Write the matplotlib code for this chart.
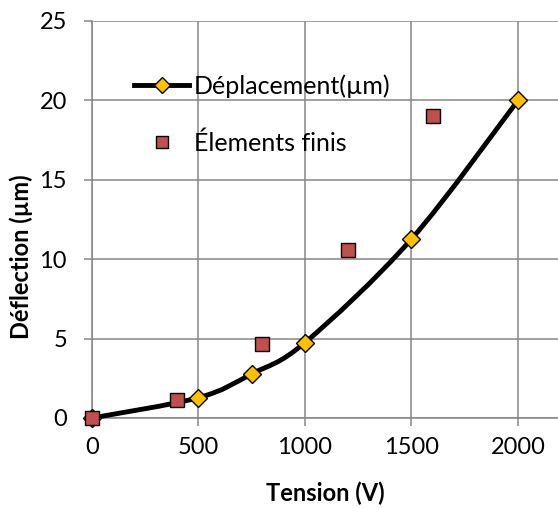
import matplotlib
matplotlib.use('Agg')
import matplotlib.pyplot as plt
from matplotlib.path import Path
from matplotlib.patches import PathPatch
from matplotlib.lines import Line2D

# data
tension_dep = [0, 500, 750, 1000, 1500, 2000]
deplacement = [0, 1.28, 2.78, 4.75, 11.27, 20.0]
tension_ef = [0, 400, 800, 1200, 1600]
elements_finis = [0, 1.13, 4.68, 10.6, 19.0]

xticks = [0, 500, 1000, 1500, 2000]
yticks = [0, 5, 10, 15, 20, 25]

plt.rcParams['font.family'] = ['Lato', 'DejaVu Sans']

fig = plt.figure(figsize=(5.58, 5.08), dpi=100)
ax = fig.add_axes([92/558, 1 - 418/508, 1 - 92/558, (418 - 21)/508])


def smooth_path(xs, ys):
    # Excel-like smoothed line: cubic Bezier through points
    pts = list(zip(xs, ys))
    verts = [pts[0]]
    codes = [Path.MOVETO]
    n = len(pts)
    for i in range(n - 1):
        p0 = pts[i - 1] if i > 0 else pts[i]
        p1 = pts[i]
        p2 = pts[i + 1]
        p3 = pts[i + 2] if i + 2 < n else pts[i + 1]
        c1 = (p1[0] + (p2[0] - p0[0]) / 6, p1[1] + (p2[1] - p0[1]) / 6)
        c2 = (p2[0] - (p3[0] - p1[0]) / 6, p2[1] - (p3[1] - p1[1]) / 6)
        verts += [c1, c2, p2]
        codes += [Path.CURVE4] * 3
    return Path(verts, codes)


ax.add_patch(PathPatch(smooth_path(tension_dep, deplacement), facecolor='none',
                       edgecolor='black', lw=3.5, zorder=3, clip_on=False,
                       capstyle='round'))
ax.plot(tension_dep, deplacement, linestyle='none', marker='D', markersize=9.5,
        markerfacecolor='#FFC000', markeredgecolor='black', markeredgewidth=1,
        zorder=4, clip_on=False)
ax.plot(tension_ef, elements_finis, linestyle='none', marker='s', markersize=9.5,
        markerfacecolor='#C0504D', markeredgecolor='black', markeredgewidth=1,
        zorder=5, clip_on=False)

ax.set_xlim(0, 2188)
ax.set_ylim(0, 25)
ax.set_xticks(xticks)
ax.set_yticks(yticks)
ax.grid(True, color='#868686', linewidth=1.1)
ax.set_axisbelow(True)
for s in ['top', 'right']:
    ax.spines[s].set_visible(False)
for s in ['left', 'bottom']:
    ax.spines[s].set_color('#868686')
    ax.spines[s].set_linewidth(1.1)
ax.tick_params(axis='both', direction='out', length=6, width=1.1,
               color='#868686', labelsize=17, labelcolor='black')
ax.tick_params(axis='x', pad=8)
ax.tick_params(axis='y', pad=12)

fig.text(325/558, 1 - 493/508, 'Tension (V)', fontsize=17, fontweight='bold',
         ha='center', va='center')
fig.text(21/558, 1 - 257/508, 'Déflection (µm)', fontsize=17, fontweight='bold',
         ha='center', va='center', rotation=90)

handles = [
    Line2D([], [], color='black', lw=3.5, marker='D', markersize=8,
           markerfacecolor='#FFC000', markeredgecolor='black', markeredgewidth=1),
    Line2D([], [], linestyle='none', marker='s', markersize=9,
           markerfacecolor='#C0504D', markeredgecolor='black', markeredgewidth=1),
]
fig.legend(handles, ['Déplacement(µm)', 'Élements finis'], loc='upper left',
           bbox_to_anchor=(134/558, 1 - 74/508), frameon=False, fontsize=18,
           handlelength=2.2, handletextpad=0.2, labelspacing=1.35, borderpad=0,
           borderaxespad=0)

fig.savefig('out.png', dpi=100)
